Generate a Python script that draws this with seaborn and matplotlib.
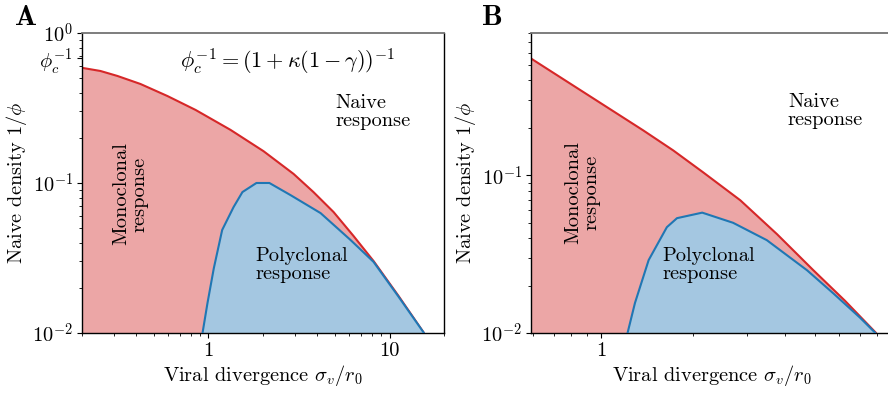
import numpy as np
import pandas as pd
import matplotlib
matplotlib.use("Agg")
import matplotlib.pyplot as plt
from matplotlib.ticker import LogLocator, NullFormatter
import seaborn as sns

# Panel A: boundary of the monoclonal region (red) and polyclonal region (blue)
a_mono_x = [0.2014, 0.253, 0.314, 0.421, 0.593, 0.848, 1.323, 2.013, 2.95,
            3.80, 4.91, 6.33, 8.16, 11.2, 15.5]
a_mono_y = [0.585, 0.558, 0.517, 0.457, 0.380, 0.307, 0.226, 0.163, 0.115,
            0.087, 0.064, 0.0443, 0.0302, 0.0177, 0.01]
a_poly_x = [0.927, 0.987, 1.07, 1.19, 1.375, 1.54, 1.84, 2.17, 2.84, 4.16, 6.09,
            8.16, 11.2, 15.5]
a_poly_y = [0.01, 0.0158, 0.027, 0.0486, 0.069, 0.087, 0.1, 0.1, 0.083, 0.063,
            0.0417, 0.0298, 0.0175, 0.01]
phi_c_inv = 0.68

# Panel B
b_mono_x = [0.590, 0.900, 1.372, 1.72, 2.155, 2.85, 3.76, 4.93, 6.27, 7.92]
b_mono_y = [0.551, 0.326, 0.193, 0.144, 0.1045, 0.0695, 0.0423, 0.0251, 0.0160, 0.01]
b_poly_x = [1.22, 1.29, 1.43, 1.64, 1.77, 2.14, 2.70, 3.48, 4.71, 5.73, 7.02, 7.88]
b_poly_y = [0.01, 0.0155, 0.029, 0.0469, 0.0535, 0.058, 0.050, 0.0388, 0.025,
            0.0179, 0.0125, 0.01]

sns.set_style("ticks")
plt.rcParams["font.family"] = ["cmr10"]
plt.rcParams["mathtext.fontset"] = "cm"
plt.rcParams["axes.unicode_minus"] = False
plt.rcParams["axes.formatter.use_mathtext"] = True
for key in ["text.color", "axes.labelcolor", "xtick.color", "ytick.color",
            "xtick.labelcolor", "ytick.labelcolor"]:
    plt.rcParams[key] = "black"

RED = "#d62728"
BLUE = "#1f77b4"
RED_FILL = "#eca6a6"
BLUE_FILL = "#a4c7e1"
FS = 14.7

fig = plt.figure(figsize=(8.88, 3.95), dpi=100)
axA = fig.add_axes([0.0923, 0.157, 0.4077, 0.7595])
axB = fig.add_axes([0.598, 0.157, 0.4077, 0.7595])


def draw_regions(ax, mx, my, px, py, ybot):
    mono = pd.DataFrame({"x": mx, "y": my})
    poly = pd.DataFrame({"x": px, "y": py})
    ax.fill_between(mono["x"], mono["y"], ybot, color=RED_FILL, lw=0)
    sns.lineplot(data=mono, x="x", y="y", ax=ax, color=RED, lw=1.5, sort=False)
    ax.fill_between(poly["x"], poly["y"], ybot, color=BLUE_FILL, lw=0, zorder=2.5)
    sns.lineplot(data=poly, x="x", y="y", ax=ax, color=BLUE, lw=1.5, sort=False,
                 zorder=3)


def style_axes(ax):
    ax.set_xscale("log")
    ax.set_yscale("log")
    for side in ["left", "bottom", "right"]:
        ax.spines[side].set_color("black")
        ax.spines[side].set_linewidth(1.0)
    ax.spines["top"].set_color("0.45")
    ax.spines["top"].set_linewidth(1.3)
    ax.spines["right"].set_visible(True)
    ax.spines["top"].set_visible(True)
    ax.tick_params(which="major", direction="out", length=3.5, width=0.8,
                   labelsize=FS, pad=3)
    ax.tick_params(which="minor", direction="out", length=2, width=0.6)
    ax.yaxis.set_minor_locator(LogLocator(base=10, subs=np.arange(2, 10)))
    ax.yaxis.set_minor_formatter(NullFormatter())
    ax.xaxis.set_minor_locator(LogLocator(base=10, subs=np.arange(2, 10)))
    ax.xaxis.set_minor_formatter(NullFormatter())
    ax.set_xlabel(r"Viral divergence $\sigma_v/r_0$", fontsize=FS, labelpad=2)
    ax.set_ylabel(r"Naive density $1/\phi$", fontsize=FS, labelpad=2)


# ---- Panel A ----
draw_regions(axA, a_mono_x, a_mono_y, a_poly_x, a_poly_y, 0.01)
style_axes(axA)
axA.set_xlim(0.2, 20)
axA.set_ylim(0.01, 1.0)
axA.set_xticks([1, 10], ["1", "10"])
axA.set_yticks([1.0, phi_c_inv, 0.1, 0.01],
               [r"$10^{0}$", r"$\phi_c^{-1}$", r"$10^{-1}$", r"$10^{-2}$"])
axA.text(0.70, 0.64, r"$\phi_c^{-1} = (1+\kappa(1-\gamma))^{-1}$",
         fontsize=16, ha="left", va="center")
axA.text(5.0, 0.297, "Naive\nresponse", fontsize=FS, ha="left", va="center",
         linespacing=1.0)
axA.text(0.37, 0.0845, "Monoclonal\nresponse", fontsize=FS, ha="center",
         va="center", rotation=90, linespacing=1.0)
axA.text(1.82, 0.0284, "Polyclonal\nresponse", fontsize=FS, ha="left",
         va="center", linespacing=1.0, zorder=5)

# ---- Panel B ----
draw_regions(axB, b_mono_x, b_mono_y, b_poly_x, b_poly_y, 0.01)
style_axes(axB)
axB.set_xlim(0.59, 9.0)
axB.set_ylim(0.01, 0.8)
axB.set_xticks([1], ["1"])
axB.set_yticks([0.1, 0.01], [r"$10^{-1}$", r"$10^{-2}$"])
axB.text(4.08, 0.257, "Naive\nresponse", fontsize=FS, ha="left", va="center",
         linespacing=1.0)
axB.text(0.867, 0.078, "Monoclonal\nresponse", fontsize=FS, ha="center",
         va="center", rotation=90, linespacing=1.0)
axB.text(1.59, 0.0269, "Polyclonal\nresponse", fontsize=FS, ha="left",
         va="center", linespacing=1.0, zorder=5)

fig.text(0.029, 0.955, "A", family="cmb10", fontsize=21, ha="center", va="center")
fig.text(0.555, 0.955, "B", family="cmb10", fontsize=21, ha="center", va="center")

fig.savefig("out.png", dpi=100)
